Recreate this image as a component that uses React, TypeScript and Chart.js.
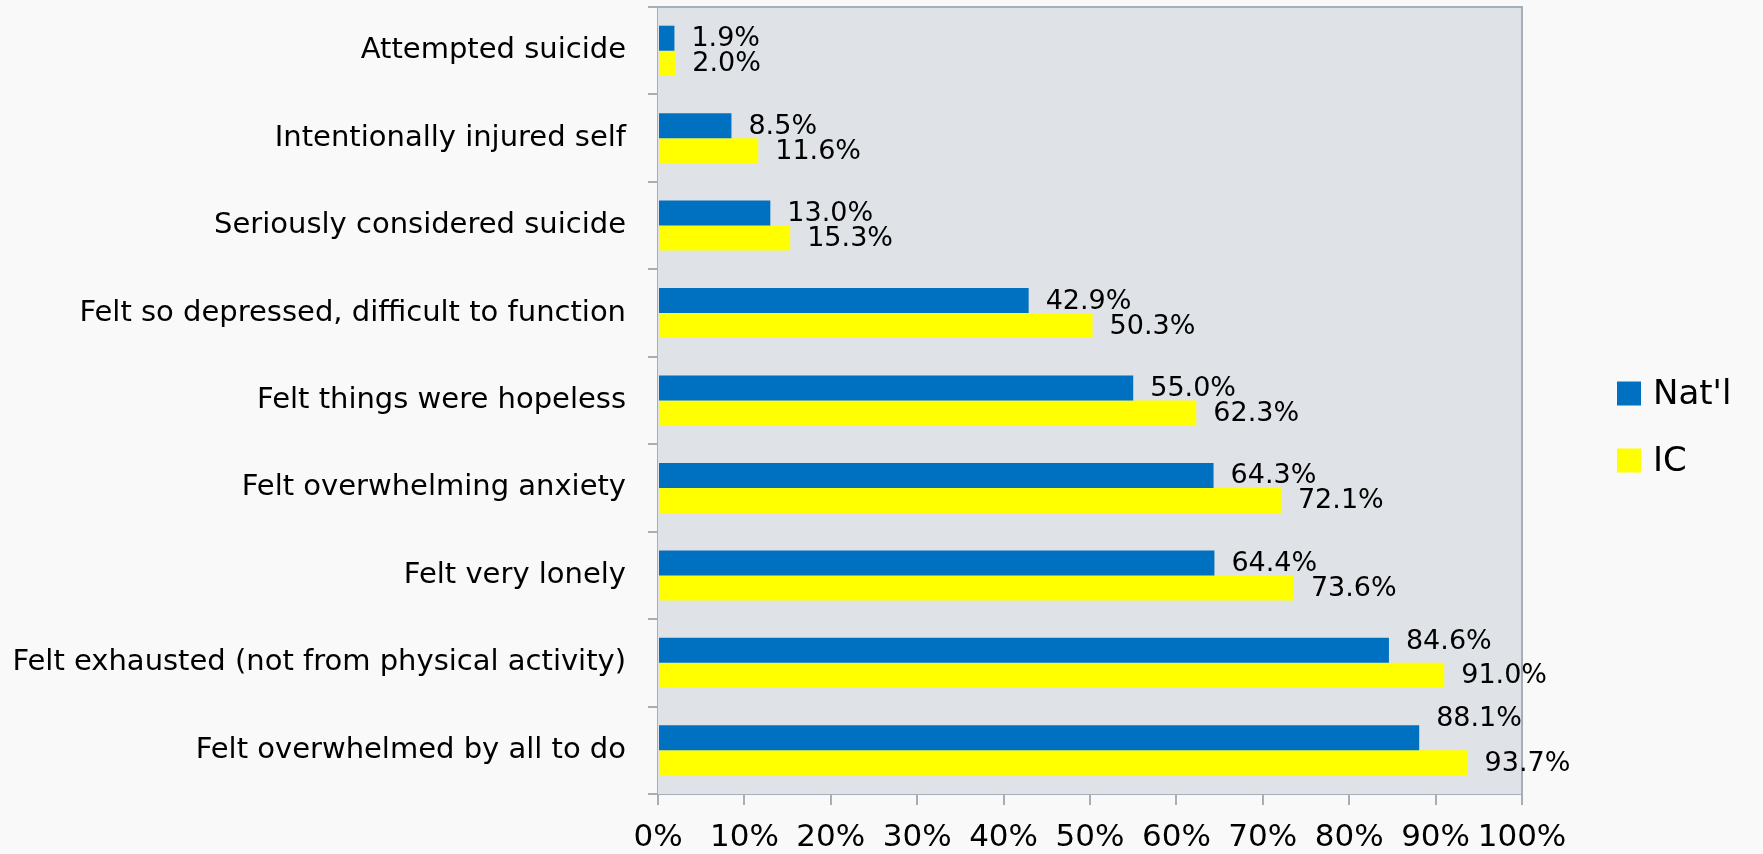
import React, { useEffect, useRef } from 'react';
import { Chart, registerables } from 'chart.js';

Chart.register(...registerables);

const categories = [
  'Attempted suicide',
  'Intentionally injured self',
  'Seriously considered suicide',
  'Felt so depressed, difficult to function',
  'Felt things were hopeless',
  'Felt overwhelming anxiety',
  'Felt very lonely',
  'Felt exhausted (not from physical activity)',
  'Felt overwhelmed by all to do',
];
const seriesNames = ["Nat'l", 'IC'];
const natlValues = [1.9, 8.5, 13.0, 42.9, 55.0, 64.3, 64.4, 84.6, 88.1];
const icValues = [2.0, 11.6, 15.3, 50.3, 62.3, 72.1, 73.6, 91.0, 93.7];
const xTickValues = [0, 10, 20, 30, 40, 50, 60, 70, 80, 90, 100];

// vertical nudges of a few value labels (as in the original)
const natlLabelNudge = [0, 0, 0, 0, 0, 0, 0, -9, -20];
const icLabelNudge = [0, 0, 0, 0, 0, 0, 0, 0, 0];

const FONT = "'DejaVu Sans', sans-serif";
const BLUE = '#0070C0';
const YELLOW = '#FFFF00';
const AXIS = '#A6AFB7';
const PLOT_BG = '#DFE2E6';
const PAGE_BG = '#F9F9F9';

const plotBgPlugin = {
  id: 'plotBg',
  beforeDatasetsDraw(chart: any) {
    const { ctx, chartArea } = chart;
    ctx.save();
    ctx.fillStyle = PLOT_BG;
    ctx.fillRect(chartArea.left, chartArea.top, chartArea.right - chartArea.left, chartArea.bottom - chartArea.top);
    ctx.strokeStyle = AXIS;
    ctx.lineWidth = 2;
    ctx.beginPath();
    ctx.moveTo(chartArea.left, chartArea.top);
    ctx.lineTo(chartArea.right, chartArea.top);
    ctx.lineTo(chartArea.right, chartArea.bottom);
    ctx.stroke();
    ctx.restore();
  },
};

const valueLabelPlugin = {
  id: 'valueLabels',
  afterDatasetsDraw(chart: any) {
    const { ctx } = chart;
    ctx.save();
    ctx.font = `27px ${FONT}`;
    ctx.fillStyle = '#000000';
    ctx.textAlign = 'left';
    ctx.textBaseline = 'middle';
    chart.data.datasets.forEach((ds: any, di: number) => {
      const meta = chart.getDatasetMeta(di);
      const nudges = di === 0 ? natlLabelNudge : icLabelNudge;
      meta.data.forEach((bar: any, i: number) => {
        const v = ds.data[i] as number;
        ctx.fillText(v.toFixed(1) + '%', bar.x + 17, bar.y + 1 + nudges[i]);
      });
    });
    ctx.restore();
  },
};

const legendPlugin = {
  id: 'sideLegend',
  afterDraw(chart: any) {
    const { ctx, chartArea } = chart;
    const x = chartArea.right + 95;
    const cy = chart.height / 2;
    ctx.save();
    ctx.font = `34px ${FONT}`;
    ctx.textAlign = 'left';
    ctx.textBaseline = 'middle';
    chart.data.datasets.forEach((ds: any, i: number) => {
      const y = cy + (i - 0.5) * 67;
      ctx.fillStyle = ds.backgroundColor;
      ctx.fillRect(x, y - 12, 24, 24);
      ctx.fillStyle = '#000000';
      ctx.fillText(ds.label, x + 36, y + 2);
    });
    ctx.restore();
  },
};

export default function App() {
  const canvasRef = useRef<HTMLCanvasElement | null>(null);

  useEffect(() => {
    if (!canvasRef.current) return;
    const chart = new Chart(canvasRef.current, {
      type: 'bar',
      data: {
        labels: categories,
        datasets: [
          {
            label: seriesNames[0],
            data: natlValues,
            backgroundColor: BLUE,
            categoryPercentage: 0.572,
            barPercentage: 1,
          },
          {
            label: seriesNames[1],
            data: icValues,
            backgroundColor: YELLOW,
            categoryPercentage: 0.572,
            barPercentage: 1,
          },
        ],
      },
      options: {
        indexAxis: 'y',
        responsive: true,
        maintainAspectRatio: false,
        animation: false,
        layout: { padding: { top: 7, right: 241, left: 0, bottom: 0 } },
        plugins: {
          legend: { display: false },
          tooltip: { enabled: false },
        },
        scales: {
          x: {
            type: 'linear',
            min: 0,
            max: 100,
            afterBuildTicks: (scale: any) => {
              scale.ticks = xTickValues.map((v) => ({ value: v }));
            },
            ticks: {
              autoSkip: false,
              maxRotation: 0,
              color: '#000000',
              padding: 14,
              font: { family: FONT, size: 31 },
              callback: (v: any) => `${v}%`,
            },
            grid: {
              drawOnChartArea: false,
              drawTicks: true,
              tickLength: 11,
              color: AXIS,
              lineWidth: 2,
            },
            border: { display: true, color: AXIS, width: 2 },
            afterFit: (scale: any) => {
              scale.height = 60;
              scale.paddingLeft = 0;
              scale.paddingRight = 0;
            },
          },
          y: {
            type: 'category',
            ticks: {
              autoSkip: false,
              color: '#000000',
              padding: 22,
              font: { family: FONT, size: 29 },
            },
            grid: {
              offset: true,
              drawOnChartArea: false,
              drawTicks: true,
              tickLength: 10,
              color: AXIS,
              lineWidth: 2,
            },
            border: { display: true, color: AXIS, width: 2 },
            afterFit: (scale: any) => {
              scale.width = 658;
              scale.paddingTop = 0;
              scale.paddingBottom = 0;
            },
          },
        },
      },
      plugins: [plotBgPlugin, valueLabelPlugin, legendPlugin],
    } as any);
    return () => chart.destroy();
  }, []);

  return (
    <div
      style={{
        position: 'absolute',
        left: 0,
        top: 0,
        width: '1763px',
        height: '854px',
        background: PAGE_BG,
      }}
    >
      <canvas ref={canvasRef} style={{ display: 'block' }} />
    </div>
  );
}
